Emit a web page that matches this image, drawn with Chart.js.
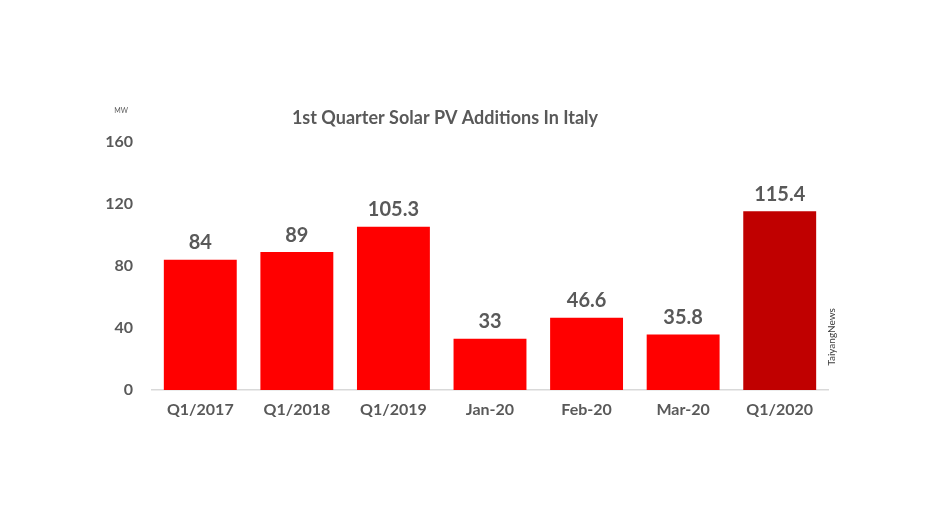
<!DOCTYPE html>
<html>
<head>
<meta charset="utf-8">
<script src="https://cdn.jsdelivr.net/npm/chart.js@4/dist/chart.umd.min.js"></script>
<style>
  html, body { margin: 0; padding: 0; background: #fff; }
  #wrap { width: 944px; height: 531px; }
</style>
</head>
<body>
<div id="wrap"><canvas id="pv_chart" width="944" height="531"></canvas></div>
<script>
// categories and values (MW)
var categories = ["Q1/2017", "Q1/2018", "Q1/2019", "Jan-20", "Feb-20", "Mar-20", "Q1/2020"];
var additions = [84, 89, 105.3, 33, 46.6, 35.8, 115.4];
var barColors = ["#FF0000", "#FF0000", "#FF0000", "#FF0000", "#FF0000", "#FF0000", "#C00000"];
var yTicks = [0, 40, 80, 120, 160];

var textGray = "#595959";
var fontFamily = "Lato, 'Open Sans', sans-serif";

// value labels above bars + title, unit and watermark
var labelPlugin = {
    id: "barLabels",
    afterDatasetsDraw: function(chart) {
        let ctx = chart.ctx;
        let meta = chart.getDatasetMeta(0);
        ctx.save();
        ctx.fillStyle = textGray;
        ctx.font = "bold 20px " + fontFamily;
        ctx.textAlign = "center";
        ctx.textBaseline = "bottom";
        meta.data.forEach(function(bar, i) {
            ctx.fillText(String(additions[i]), bar.x, bar.y - 7);
        });
        ctx.restore();
    },
    afterDraw: function(chart) {
        let ctx = chart.ctx;
        ctx.save();
        ctx.fillStyle = textGray;
        ctx.textBaseline = "middle";
        ctx.textAlign = "center";
        ctx.font = "bold 18px " + fontFamily;
        ctx.fillText("1st Quarter Solar PV Additions In Italy", 445, 118);
        ctx.font = "7px " + fontFamily;
        ctx.fillText("MW", 121, 111);
        // watermark, vertical
        ctx.translate(832, 337);
        ctx.rotate(-Math.PI / 2);
        ctx.font = "10px " + fontFamily;
        ctx.fillStyle = "#404040";
        ctx.fillText("TaiyangNews", 0, 0);
        ctx.restore();
    }
};

new Chart("pv_chart", {
    type: "bar",
    data: {
        labels: categories,
        datasets: [{
            data: additions,
            backgroundColor: barColors,
            borderWidth: 0,
            barPercentage: 0.755,
            categoryPercentage: 1.0
        }]
    },
    options: {
        responsive: false,
        animation: false,
        layout: {
            padding: { top: 142, right: 116, bottom: 0, left: 0 }
        },
        plugins: {
            legend: { display: false },
            tooltip: { enabled: false }
        },
        scales: {
            x: {
                grid: { display: false, drawTicks: false },
                border: { display: true, color: "#D9D9D9", width: 1.5 },
                ticks: {
                    color: textGray,
                    font: { family: fontFamily, size: 16, weight: "bold" },
                    padding: 10
                },
                afterFit: function(scale) { scale.height = 141; }
            },
            y: {
                min: 0,
                max: 160,
                grid: { display: false, drawTicks: false },
                border: { display: false },
                afterBuildTicks: function(scale) {
                    scale.ticks = yTicks.map(function(v) { return { value: v }; });
                },
                ticks: {
                    color: textGray,
                    font: { family: fontFamily, size: 16, weight: "bold" },
                    padding: 19
                },
                afterFit: function(scale) { scale.width = 152; }
            }
        }
    },
    plugins: [labelPlugin]
});
</script>
</body>
</html>
